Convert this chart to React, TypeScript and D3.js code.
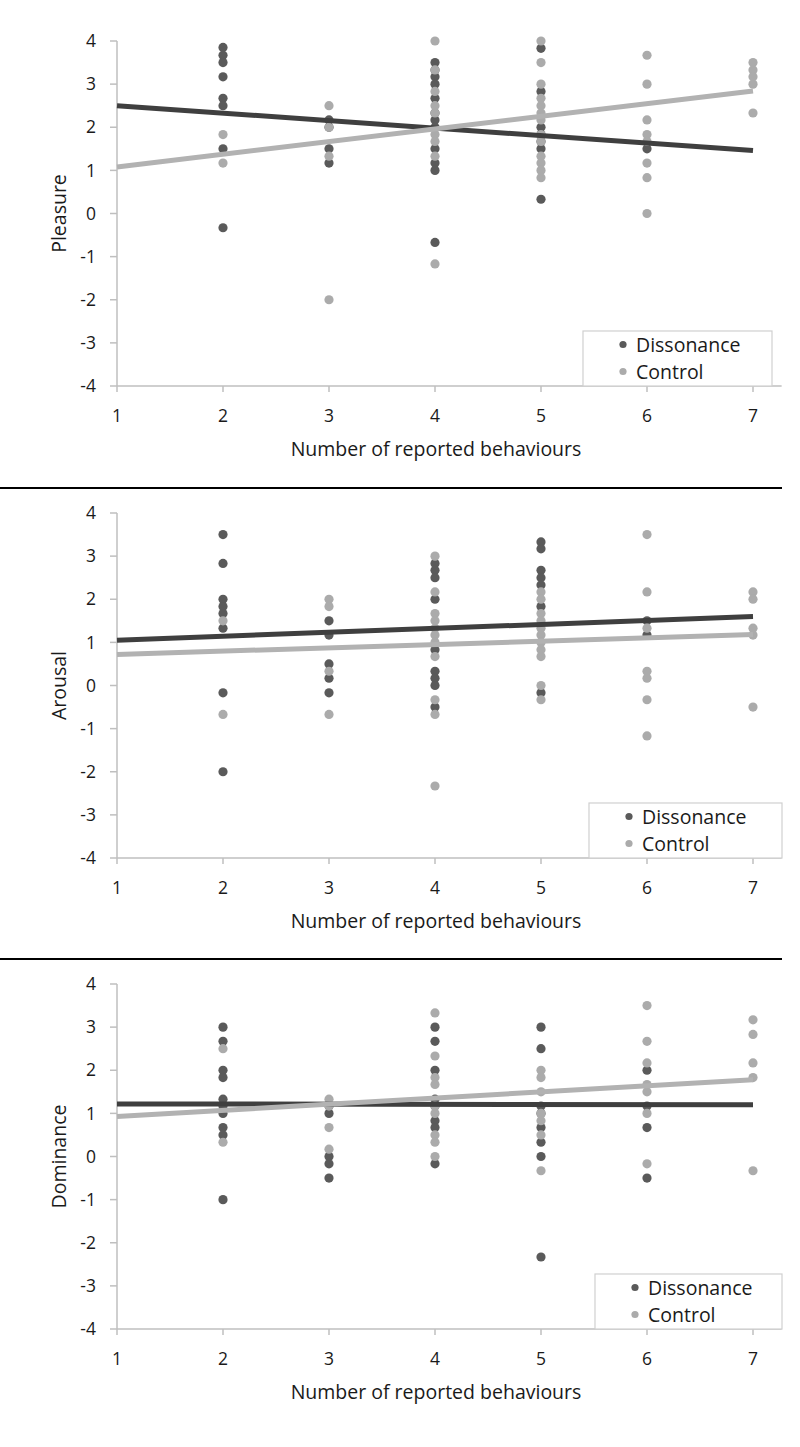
import React from "react";
import * as d3 from "d3";

// ---------- data ----------
const xTickValues = [1, 2, 3, 4, 5, 6, 7];
const yTickValues = [-4, -3, -2, -1, 0, 1, 2, 3, 4];
const seriesNames = ["Dissonance", "Control"];
const panelTitles = ["Pleasure", "Arousal", "Dominance"];
const xAxisTitle = "Number of reported behaviours";

const pleasureDissonance: [number, number][] = [
  [2, 3.85], [2, 3.67], [2, 3.5], [2, 3.17], [2, 2.67], [2, 2.5], [2, 1.5], [2, -0.33],
  [3, 2.17], [3, 2.0], [3, 1.5], [3, 1.17],
  [4, 3.5], [4, 3.33], [4, 3.17], [4, 3.0], [4, 2.67], [4, 2.33], [4, 2.17], [4, 2.0], [4, 1.5], [4, 1.17], [4, 1.0], [4, -0.67],
  [5, 3.83], [5, 2.83], [5, 2.0], [5, 1.83], [5, 1.67], [5, 1.5], [5, 0.33],
  [6, 1.5],
];
const pleasureControl: [number, number][] = [
  [2, 1.83], [2, 1.17],
  [3, 2.5], [3, 2.0], [3, 1.33], [3, -2.0],
  [4, 4.0], [4, 3.33], [4, 2.83], [4, 2.5], [4, 2.33], [4, 1.83], [4, 1.67], [4, 1.33], [4, -1.17],
  [5, 4.0], [5, 3.5], [5, 3.0], [5, 2.67], [5, 2.5], [5, 2.33], [5, 2.17], [5, 1.83], [5, 1.67], [5, 1.33], [5, 1.17], [5, 1.0], [5, 0.83],
  [6, 3.67], [6, 3.0], [6, 2.17], [6, 1.83], [6, 1.67], [6, 1.17], [6, 0.83], [6, 0.0],
  [7, 3.5], [7, 3.33], [7, 3.17], [7, 3.0], [7, 2.33],
];
const pleasureTrendDissonance = [2.5, 1.46];
const pleasureTrendControl = [1.08, 2.84];

const arousalDissonance: [number, number][] = [
  [2, 3.5], [2, 2.83], [2, 2.0], [2, 1.83], [2, 1.67], [2, 1.33], [2, -0.17], [2, -2.0],
  [3, 1.5], [3, 1.17], [3, 0.5], [3, 0.17], [3, -0.17],
  [4, 2.83], [4, 2.67], [4, 2.5], [4, 2.0], [4, 0.83], [4, 0.33], [4, 0.17], [4, 0.0], [4, -0.5],
  [5, 3.33], [5, 3.17], [5, 2.67], [5, 2.5], [5, 2.33], [5, 1.83], [5, -0.17],
  [6, 1.5], [6, 1.17],
];
const arousalControl: [number, number][] = [
  [2, 1.5], [2, -0.67],
  [3, 2.0], [3, 1.83], [3, 0.33], [3, -0.67],
  [4, 3.0], [4, 2.17], [4, 1.67], [4, 1.5], [4, 1.33], [4, 1.17], [4, 1.0], [4, 0.67], [4, -0.33], [4, -0.67], [4, -2.33],
  [5, 2.17], [5, 2.0], [5, 1.67], [5, 1.5], [5, 1.33], [5, 1.17], [5, 1.0], [5, 0.83], [5, 0.67], [5, 0.0], [5, -0.33],
  [6, 3.5], [6, 2.17], [6, 1.33], [6, 0.33], [6, 0.17], [6, -0.33], [6, -1.17],
  [7, 2.17], [7, 2.0], [7, 1.33], [7, 1.17], [7, -0.5],
];
const arousalTrendDissonance = [1.05, 1.6];
const arousalTrendControl = [0.72, 1.18];

const dominanceDissonance: [number, number][] = [
  [2, 3.0], [2, 2.67], [2, 2.0], [2, 1.83], [2, 1.33], [2, 1.17], [2, 1.0], [2, 0.67], [2, 0.5], [2, -1.0],
  [3, 1.17], [3, 1.0], [3, 0.0], [3, -0.17], [3, -0.5],
  [4, 3.0], [4, 2.67], [4, 2.0], [4, 1.33], [4, 1.17], [4, 0.83], [4, 0.67], [4, -0.17],
  [5, 3.0], [5, 2.5], [5, 1.17], [5, 1.0], [5, 0.67], [5, 0.33], [5, 0.0], [5, -2.33],
  [6, 2.0], [6, 1.17], [6, 0.67], [6, -0.5],
];
const dominanceControl: [number, number][] = [
  [2, 2.5], [2, 0.33],
  [3, 1.33], [3, 1.17], [3, 0.67], [3, 0.17],
  [4, 3.33], [4, 2.33], [4, 1.83], [4, 1.67], [4, 1.17], [4, 1.0], [4, 0.5], [4, 0.33], [4, 0.0],
  [5, 2.0], [5, 1.83], [5, 1.5], [5, 1.0], [5, 0.83], [5, 0.5], [5, -0.33],
  [6, 3.5], [6, 2.67], [6, 2.17], [6, 1.67], [6, 1.5], [6, 1.0], [6, -0.17],
  [7, 3.17], [7, 2.83], [7, 2.17], [7, 1.83], [7, -0.33],
];
const dominanceTrendDissonance = [1.22, 1.2];
const dominanceTrendControl = [0.93, 1.78];

// ---------- layout / style ----------
const panels = [
  { title: panelTitles[0], dis: pleasureDissonance, con: pleasureControl, tDis: pleasureTrendDissonance, tCon: pleasureTrendControl, top: 41, legend: { x: 583, w: 189 } },
  { title: panelTitles[1], dis: arousalDissonance, con: arousalControl, tDis: arousalTrendDissonance, tCon: arousalTrendControl, top: 513, legend: { x: 589, w: 193 } },
  { title: panelTitles[2], dis: dominanceDissonance, con: dominanceControl, tDis: dominanceTrendDissonance, tCon: dominanceTrendControl, top: 984, legend: { x: 595, w: 187 } },
];
const separators = [488, 959];
const PLOT_H = 345;
const LEFT = 117;
const RIGHT = 753;
const FONT = "'Open Sans', 'Noto Sans', sans-serif";
const DARK_DOT = "#5a5a5a";
const LIGHT_DOT = "#ababab";
const DARK_LINE = "#3f3f3f";
const LIGHT_LINE = "#b2b2b2";
const AXIS = "#bfbfbf";

const x = d3.scaleLinear().domain([1, 7]).range([LEFT, RIGHT]);

function Panel({ p }: { p: (typeof panels)[number] }) {
  const y = d3.scaleLinear().domain([-4, 4]).range([p.top + PLOT_H, p.top]);
  const bottom = y(-4);
  const line = d3
    .line<[number, number]>()
    .x((d) => x(d[0]))
    .y((d) => y(d[1]));
  const trend = (t: number[]): [number, number][] => [
    [1, t[0]],
    [7, t[1]],
  ];
  const lg = p.legend;
  const lgTop = p.top + 290;
  return (
    <g>
      {/* y axis */}
      <line x1={LEFT} x2={LEFT} y1={y(4)} y2={bottom} stroke={AXIS} strokeWidth={1.5} />
      {yTickValues.map((v) => (
        <g key={"y" + v}>
          <line x1={LEFT - 7} x2={LEFT} y1={y(v)} y2={y(v)} stroke={AXIS} strokeWidth={1.5} />
          <text x={96} y={y(v)} dy="0.35em" textAnchor="end" fontSize={17.5} fill="#1a1a1a" fontFamily={FONT}>
            {v}
          </text>
        </g>
      ))}
      {/* x axis */}
      <line x1={LEFT} x2={x(7.27)} y1={bottom} y2={bottom} stroke={AXIS} strokeWidth={1.5} />
      {xTickValues.map((v) => (
        <g key={"x" + v}>
          <line x1={x(v)} x2={x(v)} y1={bottom} y2={bottom + 6} stroke={AXIS} strokeWidth={1.5} />
          <text x={x(v)} y={bottom + 36} textAnchor="middle" fontSize={17.5} fill="#1a1a1a" fontFamily={FONT}>
            {v}
          </text>
        </g>
      ))}
      <text x={436} y={bottom + 70} textAnchor="middle" fontSize={19.5} fill="#1a1a1a" fontFamily={FONT}>
        {xAxisTitle}
      </text>
      <text
        transform={`translate(66,${(y(4) + bottom) / 2}) rotate(-90)`}
        textAnchor="middle"
        fontSize={19.5}
        fill="#1a1a1a"
        fontFamily={FONT}
      >
        {p.title}
      </text>
      {/* legend */}
      <rect x={lg.x} y={lgTop} width={lg.w} height={bottom - lgTop} fill="white" stroke="#d0d0d0" strokeWidth={1.2} />
      {seriesNames.map((s, i) => (
        <g key={s}>
          <circle cx={lg.x + 40} cy={lgTop + 13.5 + i * 27} r={3.6} fill={i === 0 ? DARK_DOT : LIGHT_DOT} />
          <text x={lg.x + 53} y={lgTop + 13.5 + i * 27} dy="0.36em" fontSize={19.5} fill="#1a1a1a" fontFamily={FONT}>
            {s}
          </text>
        </g>
      ))}
      {/* points */}
      {p.dis.map((d, i) => (
        <circle key={"d" + i} cx={x(d[0])} cy={y(d[1])} r={4.6} fill={DARK_DOT} />
      ))}
      {p.con.map((d, i) => (
        <circle key={"c" + i} cx={x(d[0])} cy={y(d[1])} r={4.6} fill={LIGHT_DOT} />
      ))}
      {/* trendlines */}
      <path d={line(trend(p.tDis)) || ""} stroke={DARK_LINE} strokeWidth={5} fill="none" />
      <path d={line(trend(p.tCon)) || ""} stroke={LIGHT_LINE} strokeWidth={5} fill="none" />
    </g>
  );
}

export default function App() {
  return (
    <svg
      width={800}
      height={1447}
      style={{ position: "absolute", left: 0, top: 0, background: "white" }}
    >
      <rect width={800} height={1447} fill="white" />
      {panels.map((p, i) => (
        <Panel key={i} p={p} />
      ))}
      {separators.map((s) => (
        <line key={s} x1={0} x2={782} y1={s} y2={s} stroke="#000" strokeWidth={2} />
      ))}
    </svg>
  );
}
